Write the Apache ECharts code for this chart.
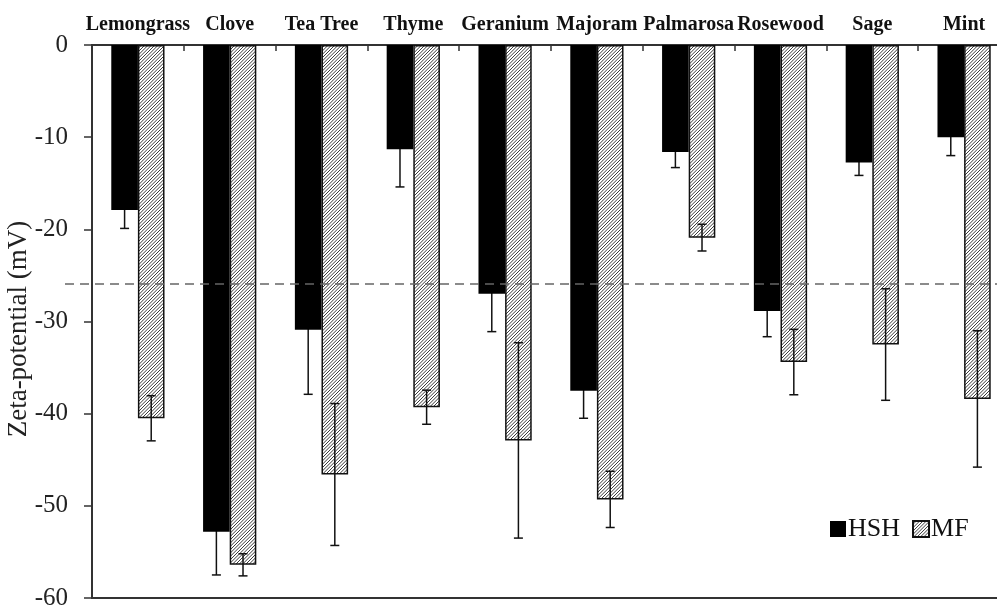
<!DOCTYPE html>
<html>
<head>
<meta charset="utf-8">
<script src="https://cdn.jsdelivr.net/npm/echarts@6/dist/echarts.min.js"></script>
<style>
  html, body { margin: 0; padding: 0; background: #fff; }
  #chart { width: 997px; height: 611px; }
</style>
</head>
<body>
<div id="chart"></div>
<script>
// Zeta-potential of essential-oil emulsions, two preparation methods
const categories = ['Lemongrass', 'Clove', 'Tea Tree', 'Thyme', 'Geranium', 'Majoram', 'Palmarosa', 'Rosewood', 'Sage', 'Mint'];
const hshValues = [-17.9, -52.8, -30.9, -11.3, -27.0, -37.5, -11.6, -28.85, -12.75, -10.0];
const hshErrors = [2.0, 4.7, 7.0, 4.1, 4.1, 3.0, 1.7, 2.8, 1.4, 2.0];
const mfValues = [-40.5, -56.4, -46.6, -39.3, -42.9, -49.3, -20.9, -34.4, -32.5, -38.4];
const mfErrors = [2.45, 1.2, 7.7, 1.85, 10.6, 3.05, 1.45, 3.55, 6.05, 7.4];
const referenceLevel = -25.85;
const yMin = -60, yMax = 0, yStep = 10;

const SERIF = "'Liberation Serif', 'Times New Roman', serif";
const BAR_RATIO = 0.29;

// diagonal hatch fill for the MF bars
function makeHatch() {
  const size = 10;
  const c = document.createElement('canvas');
  c.width = size; c.height = size;
  const g = c.getContext('2d');
  g.fillStyle = '#fff';
  g.fillRect(0, 0, size, size);
  g.strokeStyle = '#3a3a3a';
  g.lineWidth = 1;
  const step = size / 3;
  for (let k = -4; k <= 4; k++) {
    g.beginPath();
    g.moveTo(k * step - 1, size + 1);
    g.lineTo(k * step + size + 1, -1);
    g.stroke();
  }
  return c;
}
const hatch = { image: makeHatch(), repeat: 'repeat' };

function errorBarRenderer(side) {
  return function (params, api) {
    const ci = api.value(0), v = api.value(1), e = api.value(2);
    const band = api.size([1, 0])[0];
    const dx = side * band * BAR_RATIO / 2;
    const hi = api.coord([ci, v + e]);
    const lo = api.coord([ci, v - e]);
    const x = hi[0] + dx;
    const cap = 4.5;
    const style = { stroke: '#111', lineWidth: 1.5 };
    return {
      type: 'group',
      children: [
        { type: 'line', shape: { x1: x, y1: hi[1], x2: x, y2: lo[1] }, style: style },
        { type: 'line', shape: { x1: x - cap, y1: hi[1], x2: x + cap, y2: hi[1] }, style: style },
        { type: 'line', shape: { x1: x - cap, y1: lo[1], x2: x + cap, y2: lo[1] }, style: style }
      ]
    };
  };
}

const chart = echarts.init(document.getElementById('chart'), null, { renderer: 'canvas' });
chart.setOption({
  animation: false,
  backgroundColor: '#fff',
  grid: {
    left: 92, top: 45, right: -13, bottom: 13,
    outerBoundsMode: 'none',
    containLabel: false,
    show: true, borderColor: '#333', borderWidth: 2, backgroundColor: 'transparent'
  },
  legend: {
    data: ['HSH', 'MF'],
    left: 830, top: 516,
    icon: 'rect',
    itemWidth: 16, itemHeight: 16,
    itemGap: 12,
    padding: 0,
    textStyle: { fontFamily: SERIF, fontSize: 26, color: '#111', padding: [3, 0, 0, -3] }
  },
  xAxis: {
    type: 'category',
    position: 'top',
    data: categories,
    axisLine: { lineStyle: { color: '#333', width: 2 } },
    axisTick: { show: true, inside: true, length: 6, interval: 0, lineStyle: { color: '#333', width: 1.5 } },
    axisLabel: { interval: 0, margin: 10, fontFamily: SERIF, fontWeight: 'bold', fontSize: 20, color: '#111' },
    splitLine: { show: false }
  },
  yAxis: {
    type: 'value',
    min: yMin, max: yMax, interval: yStep,
    name: 'Zeta-potential (mV)',
    nameLocation: 'middle',
    nameGap: 60,
    nameMoveOverlap: false,
    nameTextStyle: { fontFamily: SERIF, fontSize: 27, color: '#222', padding: [0, 15, 0, 0] },
    axisLine: { show: true, lineStyle: { color: '#333', width: 2 } },
    axisTick: { show: true, length: 8, lineStyle: { color: '#333', width: 1.5 } },
    axisLabel: { margin: 24, fontFamily: SERIF, fontSize: 25, color: '#222' },
    splitLine: { show: false }
  },
  series: [
    {
      name: 'HSH', type: 'bar',
      data: hshValues,
      barWidth: (BAR_RATIO * 100) + '%', barGap: '0%',
      itemStyle: { color: '#000' },
      z: 3
    },
    {
      name: 'MF', type: 'bar',
      data: mfValues,
      barWidth: (BAR_RATIO * 100) + '%', barGap: '0%',
      itemStyle: { color: hatch, borderColor: '#111', borderWidth: 1.5 },
      z: 3
    },
    {
      name: 'HSH error', type: 'custom',
      renderItem: errorBarRenderer(-1),
      encode: { x: 0, y: 1 },
      data: hshValues.map((v, i) => [i, v, hshErrors[i]]),
      z: 1, clip: false
    },
    {
      name: 'MF error', type: 'custom',
      renderItem: errorBarRenderer(1),
      encode: { x: 0, y: 1 },
      data: mfValues.map((v, i) => [i, v, mfErrors[i]]),
      z: 5, clip: false,
      markLine: {
        silent: true,
        symbol: ['none', 'none'],
        label: { show: false },
        lineStyle: { color: '#666', width: 1.5, type: [9, 6] },
        data: [[{ x: 65, yAxis: referenceLevel }, { x: 1010, yAxis: referenceLevel }]]
      }
    }
  ]
});
</script>
</body>
</html>
